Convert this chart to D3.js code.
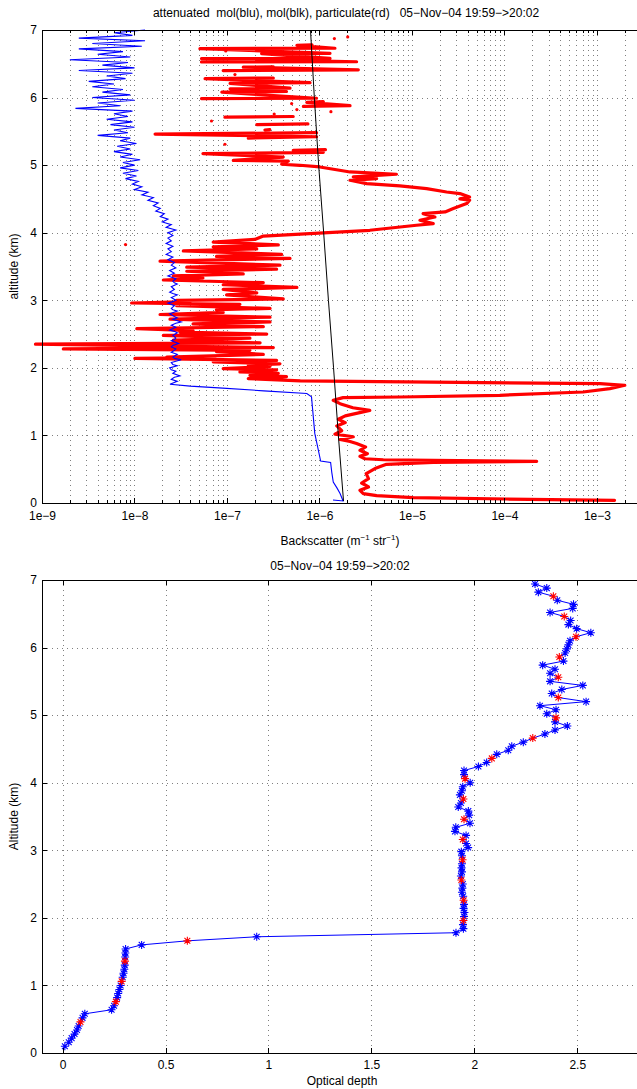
<!DOCTYPE html>
<html lang="en">
<head>
<meta charset="utf-8">
<title>Backscatter and optical depth</title>
<style>
  body{margin:0;background:#fff;}
  svg{display:block;font-family:"Liberation Sans",Arial,Helvetica,sans-serif;}
  .grid line{stroke:#000;stroke-opacity:0.5;stroke-dasharray:1,4;shape-rendering:crispEdges;}
  .frame{fill:none;stroke:#000;stroke-width:1;shape-rendering:crispEdges;}
  .tick line{stroke:#000;shape-rendering:crispEdges;}
  .lbl{font-size:12px;fill:#000;white-space:pre;}
</style>
</head>
<body>
<svg id="chart" width="637" height="1089"></svg>
<script src="https://cdn.jsdelivr.net/npm/d3@7/dist/d3.min.js"></script>
<script>
// ---- top panel data: [altitude km, backscatter m-1 sr-1] ----

// attenuated molecular (blue), smooth part below the cloud
var molAttLow = [
  [0.045,1.4e-6],[0.03,1.8e-6],[0.14,1.67e-6],[0.22,1.55e-6],[0.31,1.41e-6],[0.45,1.36e-6],
  [0.6,1.32e-6],[0.62,1.03e-6],[1.03,8.9e-7],[1.57,8.2e-7],[1.62,7.3e-7],[1.66,2.5e-7],
  [1.70,9e-8],[1.73,4e-8],[1.757,2.42e-8]
];
// attenuated molecular above the cloud, values in 1e-8
var molAttNoisy = [
  [1.80,2.9],[1.83,2.5],[1.86,2.7],[1.88,3.1],[1.92,2.6],[1.95,2.8],[1.97,2.5],[2.00,2.4],
  [2.03,2.9],[2.05,2.6],[2.08,2.5],[2.12,3.2],[2.14,2.7],[2.16,2.6],[2.20,2.9],[2.23,2.5],
  [2.26,2.7],[2.28,2.8],[2.31,2.5],[2.33,2.6],[2.36,3.0],[2.40,2.5],[2.42,2.7],[2.44,2.8],
  [2.48,2.6],[2.52,2.9],[2.54,2.7],[2.56,2.4],[2.60,2.8],[2.63,2.5],[2.66,2.8],[2.68,3.2],
  [2.72,2.6],[2.74,2.9],[2.76,2.7],[2.80,2.4],[2.84,2.9],[2.86,2.6],[2.88,2.5],[2.92,2.7],
  [2.96,2.3],[2.98,2.6],[3.00,2.8],[3.04,2.5],[3.08,2.9],[3.10,2.6],[3.12,2.4],[3.16,2.7],
  [3.20,2.5],[3.24,2.9],[3.26,2.7],[3.28,2.6],[3.32,2.8],[3.36,2.3],[3.38,2.5],[3.40,2.7],
  [3.44,2.4],[3.48,2.8],[3.52,2.5],[3.54,2.6],[3.56,2.7],[3.60,2.3],[3.64,2.6],[3.68,2.2],
  [3.72,2.5],[3.76,2.3],[3.80,2.6],[3.84,2.2],[3.88,2.5],[3.92,2.3],[3.96,2.6],[4.00,2.3],
  [4.04,2.8],[4.08,2.2],[4.12,2.5],[4.16,2.0],[4.20,2.3],[4.24,1.9],[4.28,2.1],[4.32,1.7],
  [4.36,1.9],[4.40,1.6],[4.44,1.8],[4.48,1.4],[4.52,1.6],[4.56,1.2],[4.60,1.4],[4.64,1.0],
  [4.68,1.2],[4.72,0.95],[4.76,1.1],[4.80,0.8],[4.84,1.05],[4.88,0.75],[4.92,1.1],[4.96,0.7],
  [5.00,1.0],[5.04,0.75],[5.08,1.15],[5.12,0.7],[5.16,0.95],[5.20,0.6],[5.24,0.9],[5.28,0.65],
  [5.32,1.05],[5.36,0.7],[5.40,0.9],[5.44,0.4],[5.48,0.85],[5.52,0.6],[5.56,1.0],[5.60,0.55],
  [5.64,0.95],[5.68,0.5],[5.72,0.85],[5.76,0.6],[5.80,0.95],[5.84,0.23],[5.88,0.7],[5.92,0.4],
  [5.96,1.0],[6.00,0.35],[6.04,0.9],[6.08,0.45],[6.12,0.75],[6.16,0.35],[6.20,0.6],[6.24,0.32],
  [6.28,0.8],[6.32,0.5],[6.36,0.95],[6.40,0.25],[6.44,1.0],[6.48,0.45],[6.52,0.85],[6.56,0.2],
  [6.60,0.9],[6.64,0.4],[6.68,0.75],[6.72,0.25],[6.76,1.2],[6.80,0.35],[6.84,1.3],[6.88,0.25],
  [6.92,0.95],[6.96,0.6],[7.00,1.3]
];

// molecular, not attenuated (black)
var molAlt = [0.03, 1, 2, 3, 4, 5, 6, 7];
var molVal = [1.82e-6, 1.6e-6, 1.42e-6, 1.25e-6, 1.11e-6, 9.8e-7, 8.8e-7, 8.0e-7];

// particulate (red); null = gap
var particulate = [
  [0.04,1.55e-3],[0.059,1.06e-4],[0.08,1.03e-5],[0.109,4.15e-6],[0.139,2.98e-6],[0.188,2.74e-6],
  [0.237,3.39e-6],[0.296,2.86e-6],[0.361,3.39e-6],[0.435,3.2e-6],[0.509,3.98e-6],[0.573,5.3e-6],
  [0.60,1.7e-5],[0.617,2.23e-4],[0.63,1.7e-5],[0.64,4.9e-6],[0.655,3.1e-6],[0.69,2.74e-6],
  [0.73,3.3e-6],[0.78,2.74e-6],[0.83,3.15e-6],[0.88,2.52e-6],[0.91,2.14e-6],[0.94,1.67e-6],
  [0.98,2.32e-6],[1.02,1.47e-6],[1.07,1.74e-6],[1.14,1.54e-6],[1.19,1.9e-6],[1.24,1.6e-6],
  [1.29,1.9e-6],[1.37,3.5e-6],[1.41,2.3e-6],[1.47,1.67e-6],[1.52,1.41e-6],[1.56,1.8e-6],
  [1.569,7.4e-6],[1.594,8.9e-5],[1.643,7.1e-4],[1.693,1.38e-3],[1.742,2.0e-3],[1.766,1.08e-3],
  [1.806,6.2e-7],[1.84,1.7e-7],
  [1.87,4.4e-7],[1.89,1.77e-7],[1.92,3.59e-7],[1.94,1.38e-7],[1.97,3.44e-7],[1.99,9.1e-8],
  [2.02,2.92e-7],[2.04,1.7e-7],[2.06,3.74e-7],[2.09,7.1e-8],[2.11,3.44e-7],[2.14,1.01e-8],
  [2.15,7.4e-8],[2.16,2.23e-8],[2.20,2.47e-7],[2.24,7.7e-8],[2.26,1.77e-7],[2.28,1.7e-9],
  [2.30,3.17e-7],[2.35,8.5e-10],[2.37,2.28e-7],[2.41,2.63e-8],[2.44,1.77e-7],[2.48,2.05e-8],
  [2.50,2.69e-7],[2.53,3.1e-8],[2.55,4.3e-8],[2.58,1.06e-8],[2.61,2.47e-7],[2.65,4.3e-8],
  [2.68,2.92e-7],[2.72,2.42e-8],[2.75,2.92e-7],[2.79,1.89e-8],[2.82,9.1e-8],[2.86,7.7e-8],
  [2.88,2.92e-7],[2.92,2.86e-8],[2.94,1.38e-7],[2.96,9.3e-9],[2.98,3.98e-8],[3.00,2.86e-8],
  [3.02,4.06e-7],[3.08,9.9e-8],[3.11,2.1e-7],[3.16,9.1e-8],[3.19,5.7e-7],[3.23,9.1e-8],
  [3.26,2.47e-7],[3.30,2.05e-8],[3.33,5.5e-8],[3.36,2.63e-8],[3.39,1.5e-7],[3.43,3.67e-8],
  [3.46,3.44e-7],[3.49,3.67e-8],[3.52,3.74e-7],[3.58,1.89e-8],[3.62,4.8e-7],[3.65,7.7e-8],
  [3.68,3.9e-7],[3.73,3.37e-8],[3.76,2.1e-7],[3.79,7.1e-8],[3.82,3.59e-7],[3.86,7.1e-8],
  [3.90,2.0e-7],[3.95,2.47e-7],
  [4.036,3.5e-6],[4.11,1.12e-5],[4.135,1.7e-5],[4.184,1.22e-5],[4.233,1.77e-5],[4.283,1.32e-5],
  [4.307,2.28e-5],[4.357,2.8e-5],[4.431,3.9e-5],[4.48,4.2e-5],[4.50,3.3e-5],[4.529,4.2e-5],
  [4.579,3.3e-5],[4.603,2.37e-5],[4.653,1.44e-5],[4.692,7.4e-6],[4.727,3.24e-6],[4.776,2.14e-6],
  [4.801,4.15e-6],[4.826,2.32e-6],[4.865,6.8e-6],[4.899,2.14e-6],[4.973,1.01e-6],[4.998,6.15e-7],
  [5.013,3.9e-7],[5.06,4.6e-7],[5.07,1.17e-7],[5.12,4.06e-7],[5.17,5.5e-8],[5.19,1.1e-6],
  [5.22,5.2e-7],[5.23,1.16e-6],
  null,
  [5.40,1.7e-7],[5.42,9.3e-7],[5.46,1.67e-8],[5.48,9.3e-7],
  null,
  [5.52,2.57e-7],[5.525,2.9e-7],
  null,
  [5.60,2.1e-7],[5.61,7.5e-7],
  null,
  [5.71,9.5e-8],[5.72,5.2e-7],
  null,
  [5.87,6.7e-7],[5.88,2.14e-6],[5.93,7.3e-7],[5.94,1.1e-6],
  null,
  [5.985,5.3e-8],[5.99,9.3e-7],[6.08,8.8e-8],[6.09,4.4e-7],[6.13,1.08e-7],[6.14,4.8e-7],
  [6.21,1.08e-7],[6.22,7.9e-7],[6.28,5.8e-8],[6.29,3.17e-7],
  null,
  [6.40,9.1e-8],[6.41,2.63e-6],[6.45,1.5e-7],[6.455,3.17e-7],
  null,
  [6.527,5.3e-8],[6.53,2.52e-6],[6.577,5.3e-8],[6.58,1.3e-6],[6.65,2.37e-7],[6.655,1.3e-6],
  [6.725,5.1e-8],[6.73,1.47e-6],[6.774,5.7e-7],[6.78,8.3e-7]
];
// isolated particulate samples
var particulateDots = [
  [3.824,8.0e-9],[5.309,9.5e-8],[5.653,6.8e-8],[5.757,3.24e-7],[5.792,1.33e-6],[5.822,5.7e-7],
  [5.911,5.0e-7],[6.34,1.22e-7],[6.69,9.7e-8],[6.873,1.45e-6],[6.897,2.02e-6]
];

var xMajorTop = [1e-9, 1e-8, 1e-7, 1e-6, 1e-5, 1e-4, 1e-3];
var yTicks = [0, 1, 2, 3, 4, 5, 6, 7];

// ---- bottom panel data ----
var odAlt = [
  0.10,0.16,0.22,0.28,0.34,0.40,0.46,0.52,0.58,0.64,0.70,0.76,0.82,0.88,0.94,1.00,1.06,1.12,1.18,1.24,
  1.30,1.36,1.42,1.48,1.54,1.60,1.66,1.72,1.78,1.84,1.90,1.96,2.02,2.08,2.14,2.20,2.26,2.32,2.38,2.44,
  2.50,2.56,2.62,2.68,2.74,2.80,2.86,2.92,2.98,3.04,3.10,3.16,3.22,3.28,3.34,3.40,3.46,3.52,3.58,3.64,
  3.70,3.76,3.82,3.88,3.94,4.00,4.06,4.12,4.18,4.24,4.30,4.36,4.42,4.48,4.54,4.60,4.66,4.72,4.78,4.84,
  4.90,4.96,5.02,5.08,5.14,5.20,5.26,5.32,5.38,5.44,5.50,5.56,5.62,5.68,5.74,5.80,5.86,5.92,5.98,6.04,
  6.10,6.16,6.22,6.28,6.34,6.40,6.46,6.52,6.58,6.64,6.70,6.76,6.82,6.88,6.94
];
var odVal = [
  0.011,0.030,0.044,0.058,0.070,0.078,0.087,0.097,0.108,
  0.238,0.250,0.259,0.265,0.270,0.276,0.282,0.287,0.292,0.296,0.300,0.302,0.303,0.304,0.305,0.306,
  0.384,0.606,0.943,1.911,
  1.947,1.945,1.947,
  1.950,1.952,1.948,1.950,1.948,1.946,1.940,1.942,1.944,1.937,1.935,1.940,1.938,1.940,1.943,
  1.940,1.937,1.970,1.960,1.944,1.960,1.906,1.910,1.979,1.950,1.975,1.971,1.922,1.935,1.947,
  1.930,1.940,1.944,1.980,1.955,1.950,1.950,2.020,2.060,2.085,2.109,2.165,2.182,2.238,2.284,
  2.343,2.392,2.452,2.392,
  2.397,2.352,2.397,2.319,2.543,2.408,2.376,2.425,2.527,2.368,2.408,2.368,2.392,2.332,2.433,
  2.413,2.441,2.450,2.457,2.465,2.494,2.566,2.497,2.457,2.468,2.437,2.368,2.478,2.482,2.403,
  2.384,2.311,2.352,2.295
];
var xTicksBot = [0, 0.5, 1, 1.5, 2, 2.5];

var title1 = "attenuated  mol(blu), mol(blk), particulate(rd)   05\u2212Nov\u221204 19:59\u2212>20:02";
var title2 = "05\u2212Nov\u221204 19:59\u2212>20:02";

var svg = d3.select('#chart');

function styleAxis(g){
  g.select('.domain').remove();
  g.attr('font-family', null).attr('font-size', null);
  g.selectAll('text').attr('class', 'lbl');
}

// ================= top panel =================
var xT = d3.scaleLog().domain([1e-9, 2.85e-3]).range([42, 639]);
var yT = d3.scaleLinear().domain([0, 7]).range([503, 30]);

var xMinorTop = [];
xMajorTop.forEach(function(m){
  for (var k = 2; k <= 9; k++){ if (m*k < 2.85e-3) xMinorTop.push(m*k); }
});

var gTop = svg.append('g');
var grid = gTop.append('g').attr('class', 'grid');
grid.selectAll('line.v').data(xMajorTop.slice(1).concat(xMinorTop)).join('line')
  .attr('class', 'v')
  .attr('x1', function(d){ return Math.round(xT(d)) + 0.5; })
  .attr('x2', function(d){ return Math.round(xT(d)) + 0.5; })
  .attr('y1', yT(7)).attr('y2', yT(0));
grid.selectAll('line.h').data(yTicks.slice(1, -1)).join('line')
  .attr('class', 'h')
  .attr('x1', xT.range()[0]).attr('x2', xT.range()[1])
  .attr('y1', function(d){ return yT(d) + 0.5; })
  .attr('y2', function(d){ return yT(d) + 0.5; });

var lineT = d3.line()
  .defined(function(d){ return d != null; })
  .x(function(d){ return xT(d[1]); })
  .y(function(d){ return yT(d[0]); });

var molAtt = molAttLow.concat(molAttNoisy.map(function(d){ return [d[0], d[1]*1e-8]; }));
var mol = molAlt.map(function(a, i){ return [a, molVal[i]]; });

gTop.append('path').datum(particulate).attr('d', lineT)
  .attr('fill', 'none').attr('stroke', '#ff0000').attr('stroke-width', 3.2)
  .attr('stroke-linejoin', 'round').attr('stroke-linecap', 'round');
gTop.selectAll('circle.pdot').data(particulateDots).join('circle')
  .attr('class', 'pdot')
  .attr('cx', function(d){ return xT(d[1]); })
  .attr('cy', function(d){ return yT(d[0]); })
  .attr('r', 1.6).attr('fill', '#ff0000');
gTop.append('path').datum(molAtt).attr('d', lineT)
  .attr('fill', 'none').attr('stroke', '#0000ff').attr('stroke-width', 1.1);
gTop.append('path').datum(mol).attr('d', lineT)
  .attr('fill', 'none').attr('stroke', '#000').attr('stroke-width', 1);

gTop.append('rect').attr('class', 'frame')
  .attr('x', 42.5).attr('y', 30.5).attr('width', 597).attr('height', 473);

var fmtLog = function(d){ return '1e\u2212' + Math.round(-Math.log10(d)); };
gTop.append('g').attr('transform', 'translate(0,503)')
  .call(d3.axisBottom(xT).tickValues(xMajorTop).tickSizeInner(-5).tickSizeOuter(0).tickPadding(8).tickFormat(fmtLog))
  .call(styleAxis);
gTop.append('g').attr('transform', 'translate(0,503)')
  .call(d3.axisBottom(xT).tickValues(xMinorTop).tickSizeInner(-3).tickSizeOuter(0).tickFormat(''))
  .call(styleAxis);
gTop.append('g').attr('transform', 'translate(0,30)')
  .call(d3.axisTop(xT).tickValues(xMajorTop).tickSizeInner(-5).tickSizeOuter(0).tickFormat(''))
  .call(styleAxis);
gTop.append('g').attr('transform', 'translate(0,30)')
  .call(d3.axisTop(xT).tickValues(xMinorTop).tickSizeInner(-3).tickSizeOuter(0).tickFormat(''))
  .call(styleAxis);
gTop.append('g').attr('transform', 'translate(42,0)')
  .call(d3.axisLeft(yT).tickValues(yTicks).tickSizeInner(-5).tickSizeOuter(0).tickPadding(5).tickFormat(d3.format('d')))
  .call(styleAxis);

gTop.append('text').attr('class', 'lbl').attr('x', 346).attr('y', 17)
  .attr('text-anchor', 'middle').text(title1);
gTop.append('text').attr('class', 'lbl')
  .attr('transform', 'translate(18,' + ((yT(0) + yT(7)) / 2) + ') rotate(-90)')
  .attr('text-anchor', 'middle').text('altitude (km)');
var xl = gTop.append('text').attr('class', 'lbl').attr('x', 340).attr('y', 545).attr('text-anchor', 'middle');
xl.append('tspan').text('Backscatter (m');
xl.append('tspan').attr('dy', -5).attr('font-size', '8px').text('\u22121');
xl.append('tspan').attr('dy', 5).text(' str');
xl.append('tspan').attr('dy', -5).attr('font-size', '8px').text('\u22121');
xl.append('tspan').attr('dy', 5).text(')');

// ================= bottom panel =================
var xB = d3.scaleLinear().domain([-0.1, 2.8]).range([42, 639]);
var yB = d3.scaleLinear().domain([0, 7]).range([1053, 580]);

var gBot = svg.append('g');
var gridB = gBot.append('g').attr('class', 'grid');
gridB.selectAll('line.v').data(xTicksBot).join('line')
  .attr('class', 'v')
  .attr('x1', function(d){ return Math.round(xB(d)) + 0.5; })
  .attr('x2', function(d){ return Math.round(xB(d)) + 0.5; })
  .attr('y1', yB(7)).attr('y2', yB(0));
gridB.selectAll('line.h').data(yTicks.slice(1, -1)).join('line')
  .attr('class', 'h')
  .attr('x1', xB.range()[0]).attr('x2', xB.range()[1])
  .attr('y1', function(d){ return yB(d) + 0.5; })
  .attr('y2', function(d){ return yB(d) + 0.5; });

var od = odAlt.map(function(a, i){ return [a, odVal[i]]; });
var lineB = d3.line()
  .x(function(d){ return xB(d[1]); })
  .y(function(d){ return yB(d[0]); });
gBot.append('path').datum(od).attr('d', lineB)
  .attr('fill', 'none').attr('stroke', '#0000ff').attr('stroke-width', 1);

var star = 'M-4,0H4M0,-4V4M-2.9,-2.9L2.9,2.9M-2.9,2.9L2.9,-2.9';
function isRed(i){ return i >= 6 && i % 5 === 1; }
gBot.selectAll('path.star').data(od).join('path')
  .attr('class', 'star')
  .attr('d', star)
  .attr('transform', function(d){ return 'translate(' + xB(d[1]) + ',' + yB(d[0]) + ')'; })
  .attr('fill', 'none')
  .attr('stroke', function(d, i){ return isRed(i) ? '#ff0000' : '#0000ff'; })
  .attr('stroke-width', 1.1);
gBot.selectAll('path.star').filter(function(d, i){ return isRed(i); }).raise();

gBot.append('rect').attr('class', 'frame')
  .attr('x', 42.5).attr('y', 580.5).attr('width', 597).attr('height', 473);

gBot.append('g').attr('transform', 'translate(0,1053)')
  .call(d3.axisBottom(xB).tickValues(xTicksBot).tickSizeInner(-5).tickSizeOuter(0).tickPadding(7).tickFormat(d3.format('~g')))
  .call(styleAxis);
gBot.append('g').attr('transform', 'translate(0,580)')
  .call(d3.axisTop(xB).tickValues(xTicksBot).tickSizeInner(-5).tickSizeOuter(0).tickFormat(''))
  .call(styleAxis);
gBot.append('g').attr('transform', 'translate(42,0)')
  .call(d3.axisLeft(yB).tickValues(yTicks).tickSizeInner(-5).tickSizeOuter(0).tickPadding(5).tickFormat(d3.format('d')))
  .call(styleAxis);

gBot.append('text').attr('class', 'lbl').attr('x', 340).attr('y', 570)
  .attr('text-anchor', 'middle').text(title2);
gBot.append('text').attr('class', 'lbl')
  .attr('transform', 'translate(18,' + ((yB(0) + yB(7)) / 2) + ') rotate(-90)')
  .attr('text-anchor', 'middle').text('Altitude (km)');
gBot.append('text').attr('class', 'lbl').attr('x', 342).attr('y', 1085)
  .attr('text-anchor', 'middle').text('Optical depth');
</script>
</body>
</html>
